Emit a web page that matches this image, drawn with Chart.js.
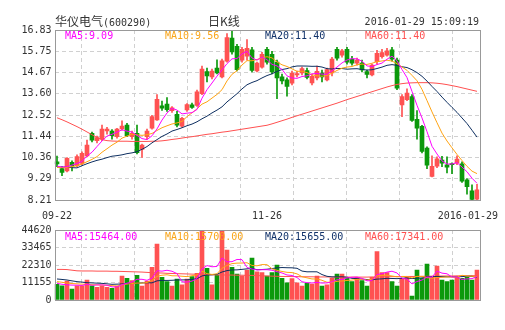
<!DOCTYPE html>
<html>
<head>
<meta charset="utf-8">
<script src="https://cdn.jsdelivr.net/npm/chart.js@4.4.0/dist/chart.umd.min.js"></script>
<style>
body { margin:0; background:#fff; width:505px; height:330px; overflow:hidden; position:relative;
       font-family:"DejaVu Sans Mono", monospace; font-size:10px; color:#333; }
.t { position:absolute; white-space:nowrap; line-height:12px; }
.cjk { font-family:"Noto Sans CJK SC"; font-size:12px; }
#kline { position:absolute; left:0; top:0; }
#vol { position:absolute; left:0; top:220px; }
</style>
</head>
<body>
<canvas id="kline" width="505" height="225"></canvas>
<canvas id="vol" width="505" height="110"></canvas>

<div class="t" style="left:55px;top:15px"><span class="cjk">华仪电气</span>(600290)</div>
<div class="t cjk" style="left:208px;top:15px">日K线</div>
<div class="t" style="right:26px;top:16px">2016-01-29 15:09:19</div>

<div class="t" style="left:65px;top:30px;color:#f0f">MA5:9.09</div>
<div class="t" style="left:165px;top:30px;color:#f9a51a">MA10:9.56</div>
<div class="t" style="left:265px;top:30px;color:#12336a">MA20:11.40</div>
<div class="t" style="left:365px;top:30px;color:#ff5050">MA60:11.40</div>

<div class="t" style="left:65px;top:231px;color:#f0f">MA5:15464.00</div>
<div class="t" style="left:165px;top:231px;color:#f9a51a">MA10:15700.00</div>
<div class="t" style="left:265px;top:231px;color:#12336a">MA20:15655.00</div>
<div class="t" style="left:365px;top:231px;color:#ff5050">MA60:17341.00</div>

<script>
// daily candles, 09-22 .. 2016-01-29
const opens = [10.15, 9.80, 9.68, 10.12, 9.95, 10.07, 10.44, 11.59, 11.22, 11.30,
  11.71, 11.71, 11.42, 11.81, 12.01, 11.42, 11.59, 10.78, 11.42, 11.85,
  12.27, 12.98, 13.08, 12.74, 12.55, 11.95, 12.78, 13.03, 13.00, 13.60,
  14.72, 14.45, 14.90, 14.45, 15.25, 16.42, 16.00, 15.30, 15.50, 15.83,
  14.75, 14.95, 15.85, 15.60, 15.20, 14.45, 14.30, 14.14, 14.55, 14.65,
  14.77, 14.15, 14.40, 14.65, 14.30, 14.65, 15.85, 15.55, 15.85, 15.35,
  15.15, 15.15, 14.72, 14.55, 15.22, 15.48, 15.56, 15.83, 15.30, 13.03,
  13.30, 13.45, 12.30, 11.95, 10.84, 9.40, 9.92, 10.24, 9.99, 10.05,
  10.08, 10.05, 9.23, 8.68, 8.25];
const highs = [10.44, 9.90, 10.36, 10.20, 10.50, 10.65, 11.25, 11.65, 11.45, 12.01,
  11.90, 11.78, 11.85, 12.22, 12.10, 11.70, 12.01, 11.05, 11.80, 12.50,
  13.55, 13.22, 13.40, 12.95, 12.70, 12.40, 13.10, 13.12, 13.78, 15.00,
  14.90, 14.85, 15.32, 15.35, 16.65, 16.83, 16.10, 15.95, 16.34, 15.95,
  15.20, 15.70, 15.95, 15.75, 15.30, 14.60, 14.40, 14.75, 14.75, 14.95,
  14.90, 14.60, 15.00, 14.80, 14.90, 15.45, 15.95, 15.85, 15.95, 15.50,
  15.40, 15.30, 14.80, 15.10, 15.80, 15.85, 15.90, 15.95, 15.40, 13.55,
  13.85, 13.55, 12.75, 12.00, 10.90, 10.45, 10.40, 10.42, 10.40, 10.10,
  10.45, 10.15, 9.30, 8.98, 9.00];
const lows = [9.90, 9.45, 9.63, 9.68, 9.90, 10.00, 10.40, 11.15, 11.10, 11.22,
  11.55, 11.30, 11.35, 11.75, 11.42, 11.30, 10.55, 10.37, 11.30, 11.80,
  12.25, 12.75, 12.70, 12.65, 11.92, 11.90, 12.70, 12.85, 12.95, 13.55,
  14.20, 14.35, 14.60, 14.40, 15.20, 15.60, 14.75, 15.20, 15.30, 14.70,
  14.70, 14.90, 15.10, 14.60, 13.35, 14.10, 13.47, 14.05, 14.45, 14.55,
  14.35, 14.05, 14.30, 14.20, 14.25, 14.50, 15.30, 15.45, 15.10, 15.05,
  15.05, 14.70, 14.40, 14.50, 15.10, 15.40, 15.50, 15.25, 13.80, 12.43,
  13.25, 12.20, 11.30, 10.60, 9.80, 9.38, 9.85, 9.90, 9.58, 9.55,
  10.00, 9.10, 8.50, 8.22, 8.22];
const closes = [10.04, 9.61, 10.32, 9.92, 10.41, 10.58, 11.00, 11.25, 11.37, 11.81,
  11.81, 11.47, 11.80, 11.96, 11.47, 11.59, 10.61, 10.99, 11.70, 12.44,
  13.32, 12.86, 12.79, 12.88, 12.00, 12.35, 13.05, 12.91, 13.70, 14.85,
  14.50, 14.75, 14.65, 15.27, 16.45, 15.72, 14.82, 15.85, 15.90, 14.78,
  15.15, 15.60, 15.20, 14.70, 14.40, 14.25, 13.97, 14.65, 14.62, 14.87,
  14.42, 14.48, 14.74, 14.45, 14.82, 15.35, 15.40, 15.78, 15.20, 15.15,
  15.31, 14.80, 14.58, 15.05, 15.65, 15.68, 15.78, 15.35, 13.88, 13.45,
  13.63, 12.25, 11.85, 10.67, 9.98, 9.92, 10.30, 10.08, 9.88, 10.00,
  10.28, 9.16, 8.89, 8.24, 8.72];
const volumes = [10000, 9100, 12100, 7000, 9100, 9100, 12700, 9100, 8100, 9100,
  8100, 7400, 8900, 15300, 13800, 12300, 15700, 8900, 12100, 20800,
  35700, 14500, 11700, 8900, 13400, 9600, 13400, 14900, 17000, 44200,
  20200, 9600, 15900, 44000, 31900, 20800, 16600, 15300, 19100, 26800,
  18000, 17400, 15300, 17400, 22300, 13800, 11000, 13600, 11000, 8900,
  10600, 10200, 15300, 8900, 9600, 13800, 16600, 16600, 13800, 11700,
  14450, 12300, 8900, 14450, 30800, 17400, 17400, 11700, 8900, 13800,
  14450, 2550, 19100, 13800, 22950, 14450, 21700, 12750, 11700, 12750,
  14450, 13800, 14450, 12750, 19100];

// moving averages before enough days are visible
const ma5Head = [9.93, 9.88, 9.90, 9.98];
const ma10Head = [9.87, 9.85, 9.86, 9.90, 9.95, 10.04, 10.15, 10.27, 10.41];
const ma20Head = [9.88, 9.88, 9.87, 9.85, 9.84, 9.95, 10.05, 10.14, 10.22, 10.28,
  10.36, 10.43, 10.46, 10.50, 10.56, 10.60, 10.66, 10.78, 10.92];
const ma60 = [12.38, 12.28, 12.17, 12.05, 11.93, 11.80, 11.66, 11.52, 11.38, 11.27,
  11.22, 11.20, 11.19, 11.19, 11.19, 11.18, 11.18, 11.18, 11.18, 11.19,
  11.19, 11.21, 11.24, 11.28, 11.31, 11.35, 11.39, 11.42, 11.46, 11.50,
  11.54, 11.57, 11.61, 11.65, 11.68, 11.72, 11.76, 11.80, 11.84, 11.88,
  11.92, 11.96, 12.00, 12.07, 12.15, 12.23, 12.31, 12.40, 12.48, 12.56,
  12.64, 12.72, 12.80, 12.88, 12.96, 13.04, 13.12, 13.21, 13.30, 13.38,
  13.46, 13.54, 13.62, 13.70, 13.78, 13.86, 13.94, 14.01, 14.07, 14.11,
  14.14, 14.15, 14.16, 14.16, 14.16, 14.15, 14.13, 14.10, 14.06, 14.01,
  13.96, 13.90, 13.84, 13.78, 13.72];
const vMa5Head = [10600, 10000, 9700, 9500];
const vMa10Head = [11700, 11300, 10800, 10500, 10300, 10100, 9900, 9750, 9650];
const vMa20Head = [13400, 13100, 12750, 12200, 11700, 11400, 11050, 10900, 10750, 10600,
  10300, 10000, 10100, 10200, 10350, 10500, 10650, 10850, 11000];
const vMa60 = [19500, 19500, 19400, 19000, 18600, 18500, 18500, 18500, 18400, 18400,
  18400, 18300, 18300, 18200, 18100, 18000, 17900, 17800, 17600, 17400,
  17300, 17200, 17000, 16900, 16800, 16700, 16600, 16500, 16400, 16300,
  16200, 16100, 16000, 16000, 15900, 15900, 15800, 15800, 15700, 15700,
  15600, 15400, 15300, 15200, 15100, 15000, 15000, 14900, 14900, 14800,
  14800, 14800, 14700, 14700, 14700, 14600, 14600, 14600, 14600, 14600,
  14600, 14600, 14600, 14700, 14700, 14800, 14800, 14900, 14900, 14900,
  15000, 15000, 15000, 15100, 15100, 15200, 15200, 15300, 15300, 15300,
  15400, 15400, 15400, 15500, 15500];

const priceTicks = [8.21, 9.29, 10.36, 11.44, 12.52, 13.60, 14.67, 15.75, 16.83];
const volTicks = [0, 11155, 22310, 33465, 44620];
const dateTicks = ['09-22', '11-26', '2016-01-29'];
const dateTickIndex = [0, 42, 84];

const RED = '#ff5252', GREEN = '#0b990b';
const C5 = '#ff00ff', C10 = '#ffa312', C20 = '#0e2f60', C60 = '#ff5050';
const FONT = { family: '"DejaVu Sans Mono", monospace', size: 10 };

function movingAverage(values, n, head) {
	return values.map((v, i) => {
		if (i < head.length) return head[i];
		let sum = 0;
		for (let k = i - n + 1; k <= i; k++) sum += values[k];
		return sum / n;
	});
}

const days = closes.map((c, i) => i);
const colors = closes.map((c, i) => c >= opens[i] ? RED : GREEN);
const bodies = closes.map((c, i) => [Math.min(opens[i], c), Math.max(opens[i], c)]);
const wicks = closes.map((c, i) => [lows[i], highs[i]]);

function maLine(data, color) {
	return { type: 'line', data, borderColor: color, borderWidth: 1, pointRadius: 0,
		tension: 0, order: 0 };
}

// plot frame
const frame = {
	id: 'frame',
	afterDraw(chart) {
		const a = chart.chartArea, ctx = chart.ctx;
		ctx.save();
		ctx.strokeStyle = '#999';
		ctx.lineWidth = 1;
		const l = Math.round(a.left) + 0.5, r = Math.round(a.right) + 0.5;
		const t = Math.round(a.top) + 0.5, b = Math.round(a.bottom) + 0.5;
		ctx.strokeRect(l, t, r - l, b - t);
		ctx.restore();
	}
};

// date labels under the price chart
const dateLabels = {
	id: 'dateLabels',
	afterDraw(chart) {
		const ctx = chart.ctx, x = chart.scales.x;
		ctx.save();
		ctx.font = '10px "DejaVu Sans Mono"';
		ctx.fillStyle = '#333';
		ctx.textBaseline = 'middle';
		dateTicks.forEach((t, k) => {
			const w = ctx.measureText(t).width;
			let px = x.getPixelForValue(dateTickIndex[k]) - w / 2;
			px = Math.min(px, chart.width - 7 - w);
			ctx.fillText(t, px, 216);
		});
		ctx.restore();
	}
};

function scales(yMin, yMax, ticks, labels) {
	return {
		x: { display: false, offset: true },
		xGrid: {
			type: 'linear', position: 'bottom', min: 0, max: 8, offset: false,
			ticks: { display: false, stepSize: 1 },
			grid: { color: '#d0d0d0', drawTicks: false },
			border: { display: false, dash: [4, 3] },
			afterFit: s => { s.height = 0; }
		},
		y: {
			min: yMin, max: yMax,
			afterBuildTicks: s => { s.ticks = ticks.map(v => ({ value: v })); },
			ticks: { padding: 3, color: '#333', font: FONT,
				callback: (v, i) => labels[i] },
			grid: { color: '#d0d0d0', drawTicks: false },
			border: { display: false, dash: [4, 3] },
			afterFit: s => { s.width = 54.5; }
		}
	};
}

const common = {
	responsive: false,
	animation: false,
	plugins: { legend: { display: false }, tooltip: { enabled: false } }
};

new Chart(document.getElementById('kline'), {
	type: 'bar',
	data: {
		labels: days,
		datasets: [
			maLine(movingAverage(closes, 5, ma5Head), C5),
			maLine(movingAverage(closes, 10, ma10Head), C10),
			maLine(movingAverage(closes, 20, ma20Head), C20),
			maLine(ma60, C60),
			{ data: bodies, backgroundColor: colors, barThickness: 4, minBarLength: 1,
				grouped: false, order: 1 },
			{ data: wicks, backgroundColor: colors, barThickness: 1,
				grouped: false, order: 2 }
		]
	},
	options: Object.assign({}, common, {
		layout: { padding: { left: 0, right: 25.5, top: 30, bottom: 25 } },
		scales: scales(8.21, 16.83, priceTicks, priceTicks.map(v => v.toFixed(2)))
	}),
	plugins: [frame, dateLabels]
});

new Chart(document.getElementById('vol'), {
	type: 'bar',
	data: {
		labels: days,
		datasets: [
			maLine(movingAverage(volumes, 5, vMa5Head), C5),
			maLine(movingAverage(volumes, 10, vMa10Head), C10),
			maLine(movingAverage(volumes, 20, vMa20Head), C20),
			maLine(vMa60, C60),
			{ data: volumes, backgroundColor: colors, barThickness: 4, grouped: false, order: 1 }
		]
	},
	options: Object.assign({}, common, {
		layout: { padding: { left: 0, right: 25.5, top: 10, bottom: 30 } },
		scales: scales(0, 44620, volTicks, volTicks.map(String))
	}),
	plugins: [frame]
});
</script>
</body>
</html>
